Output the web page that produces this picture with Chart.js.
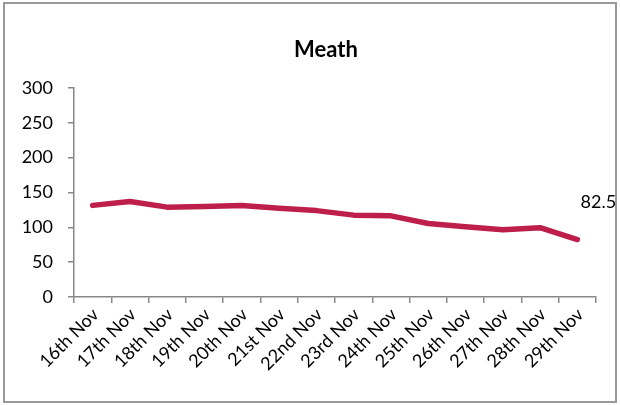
<!DOCTYPE html>
<html>
<head>
<meta charset="utf-8">
<script src="https://cdn.jsdelivr.net/npm/chart.js@4"></script>
<style>
body{margin:0;background:#fff;}
#wrap{position:relative;width:620px;height:405px;}
#frame{position:absolute;left:3px;top:2px;width:610px;height:397px;border:2px solid #999;pointer-events:none;}
</style>
</head>
<body>
<div id="wrap">
<canvas id="meath" width="620" height="405"></canvas>
<div id="frame"></div>
</div>
<script>
var days = ['16th Nov','17th Nov','18th Nov','19th Nov','20th Nov','21st Nov','22nd Nov','23rd Nov','24th Nov','25th Nov','26th Nov','27th Nov','28th Nov','29th Nov'];
var meathValues = [131.5, 137, 129, 130, 131.5, 127.5, 124, 117.5, 116.5, 105.5, 101, 96.5, 99.5, 82.5];
var yTicks = [0, 50, 100, 150, 200, 250, 300];

// only the last point gets a label, like the original
var lastLabel = {
    id: 'lastLabel',
    afterLayout: function(chart){
        // title sits a bit right of canvas centre in the original
        if(chart.titleBlock){
            chart.titleBlock.left = 56;
        }
    },
    afterDatasetsDraw: function(chart){
        let meta = chart.getDatasetMeta(0);
        let pt = meta.data[meta.data.length - 1];
        let ctx = chart.ctx;
        ctx.save();
        ctx.font = '18px Lato';
        ctx.fillStyle = '#000';
        ctx.textAlign = 'center';
        ctx.textBaseline = 'middle';
        ctx.fillText(String(meathValues[meathValues.length - 1]), pt.x + 21, pt.y - 37);
        ctx.restore();
    }
};

Chart.defaults.font.family = 'Lato';
Chart.defaults.color = '#000';

var chart = new Chart('meath', {
    type: 'line',
    data: {
        labels: days,
        datasets: [{
            label: 'Meath',
            data: meathValues,
            borderColor: '#BE1E4A',
            borderWidth: 5.5,
            pointRadius: 0,
            tension: 0,
            fill: false,
            borderCapStyle: 'round',
            borderJoinStyle: 'round'
        }]
    },
    options: {
        responsive: false,
        animation: false,
        events: [],
        layout: {padding: {left: 0, right: 24, top: 0, bottom: 0}},
        plugins: {
            legend: {display: false},
            tooltip: {enabled: false},
            title: {
                display: true,
                text: 'Meath',
                font: {size: 22, weight: 'bold', family: 'Lato'},
                color: '#000',
                padding: {top: 37, bottom: 24.6}
            }
        },
        scales: {
            x: {
                offset: true,
                grid: {offset: true, drawOnChartArea: false, drawTicks: true, tickLength: 6, color: '#888', lineWidth: 1.5},
                border: {display: true, color: '#888', width: 1.5},
                ticks: {font: {size: 18}, maxRotation: 45, minRotation: 45, autoSkip: false, padding: 1, labelOffset: 3},
                afterFit: function(scale){ scale.height = 108; }
            },
            y: {
                min: 0,
                max: 300,
                afterBuildTicks: function(scale){
                    scale.ticks = yTicks.map(function(v){ return {value: v}; });
                },
                grid: {drawOnChartArea: false, drawTicks: true, tickLength: 6, color: '#888', lineWidth: 1.5},
                border: {display: true, color: '#888', width: 1.5},
                ticks: {font: {size: 18}, padding: 15},
                afterFit: function(scale){ scale.width = 74; }
            }
        }
    },
    plugins: [lastLabel]
});
</script>
</body>
</html>
